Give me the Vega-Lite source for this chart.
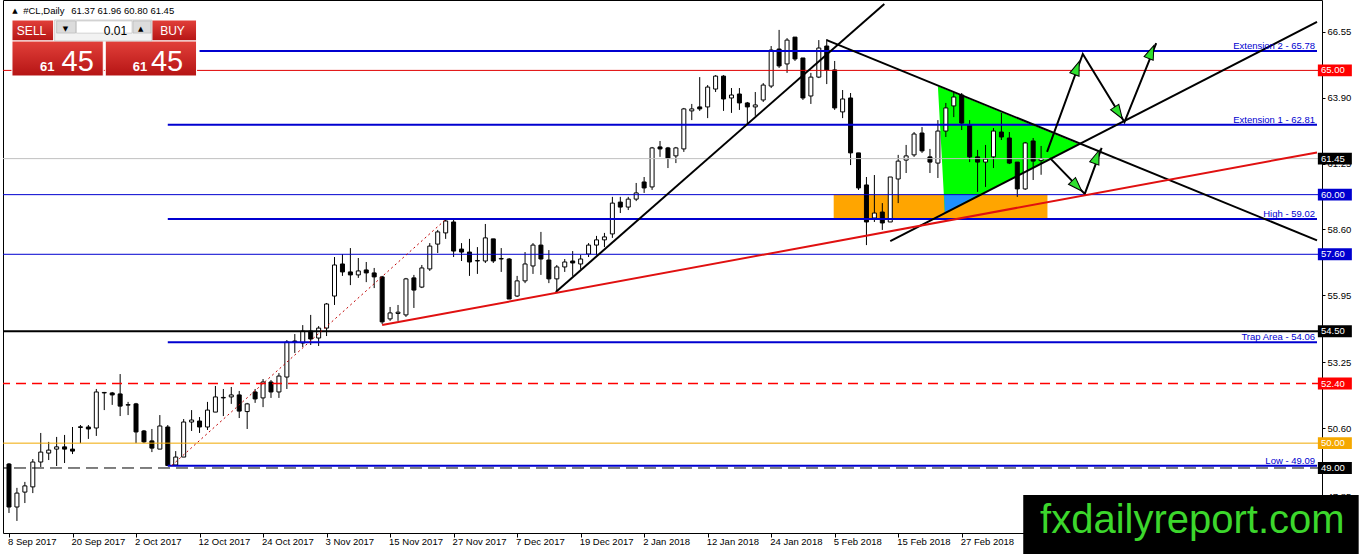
{
"$schema": "https://vega.github.io/schema/vega-lite/v6.json",
"width": 1319, "height": 533,
"autosize": {"type": "none"},
"padding": {"left": 3, "top": 0, "right": 40, "bottom": 21},
"background": "white",
"config": {"view": {"stroke": "black", "strokeWidth": 1}, "text": {"font": "Liberation Sans"}, "axis": {"labelFont": "Liberation Sans", "labelFontSize": 9.5, "labelColor": "black", "tickColor": "black"}},
"datasets": {
"candles": [
{"i":0,"d":"8 Sep 2017","o":49.16,"h":49.2,"l":47.19,"c":47.43},
{"i":1,"d":"11 Sep 2017","o":47.43,"h":48.2,"l":46.87,"c":47.99},
{"i":2,"d":"12 Sep 2017","o":48.03,"h":48.44,"l":47.59,"c":48.28},
{"i":3,"d":"13 Sep 2017","o":48.24,"h":49.36,"l":47.99,"c":49.24},
{"i":4,"d":"14 Sep 2017","o":49.24,"h":50.41,"l":49.04,"c":49.64},
{"i":5,"d":"15 Sep 2017","o":49.6,"h":50.05,"l":49.32,"c":49.72},
{"i":6,"d":"18 Sep 2017","o":49.76,"h":50.25,"l":49.08,"c":49.85},
{"i":7,"d":"19 Sep 2017","o":49.85,"h":50.33,"l":49.2,"c":49.76},
{"i":8,"d":"20 Sep 2017","o":49.76,"h":50.65,"l":49.56,"c":49.68},
{"i":9,"d":"21 Sep 2017","o":50.63,"h":50.73,"l":50.0,"c":50.66},
{"i":10,"d":"22 Sep 2017","o":50.65,"h":50.73,"l":50.17,"c":50.57},
{"i":11,"d":"25 Sep 2017","o":50.61,"h":52.18,"l":50.29,"c":52.06},
{"i":12,"d":"26 Sep 2017","o":52.02,"h":52.06,"l":51.33,"c":52.04},
{"i":13,"d":"27 Sep 2017","o":52.02,"h":52.06,"l":51.54,"c":51.94},
{"i":14,"d":"28 Sep 2017","o":51.98,"h":52.78,"l":51.09,"c":51.49},
{"i":15,"d":"29 Sep 2017","o":51.53,"h":51.66,"l":51.13,"c":51.55},
{"i":16,"d":"2 Oct 2017","o":51.58,"h":51.62,"l":50.0,"c":50.45},
{"i":17,"d":"3 Oct 2017","o":50.49,"h":50.53,"l":50.0,"c":50.05},
{"i":18,"d":"4 Oct 2017","o":50.09,"h":50.57,"l":49.64,"c":49.8},
{"i":19,"d":"5 Oct 2017","o":49.76,"h":51.13,"l":49.76,"c":50.69},
{"i":20,"d":"6 Oct 2017","o":50.65,"h":50.73,"l":49.09,"c":49.1},
{"i":21,"d":"9 Oct 2017","o":49.12,"h":49.68,"l":49.1,"c":49.44},
{"i":22,"d":"10 Oct 2017","o":49.44,"h":50.97,"l":49.44,"c":50.85},
{"i":23,"d":"11 Oct 2017","o":50.85,"h":51.33,"l":50.49,"c":50.93},
{"i":24,"d":"12 Oct 2017","o":50.89,"h":51.05,"l":50.41,"c":50.65},
{"i":25,"d":"13 Oct 2017","o":50.65,"h":51.66,"l":50.53,"c":51.33},
{"i":26,"d":"16 Oct 2017","o":51.25,"h":52.3,"l":51.25,"c":51.86},
{"i":27,"d":"17 Oct 2017","o":51.82,"h":52.18,"l":51.09,"c":51.84},
{"i":28,"d":"18 Oct 2017","o":51.86,"h":52.26,"l":51.58,"c":51.94},
{"i":29,"d":"19 Oct 2017","o":51.94,"h":52.1,"l":51.01,"c":51.29},
{"i":30,"d":"20 Oct 2017","o":51.27,"h":51.62,"l":50.57,"c":51.58},
{"i":31,"d":"23 Oct 2017","o":52.06,"h":52.18,"l":51.62,"c":51.78},
{"i":32,"d":"24 Oct 2017","o":51.82,"h":52.58,"l":51.45,"c":52.46},
{"i":33,"d":"25 Oct 2017","o":52.46,"h":52.54,"l":51.82,"c":52.06},
{"i":34,"d":"26 Oct 2017","o":52.06,"h":52.82,"l":51.82,"c":52.7},
{"i":35,"d":"27 Oct 2017","o":52.66,"h":54.15,"l":52.18,"c":54.07},
{"i":36,"d":"30 Oct 2017","o":54.11,"h":54.39,"l":53.63,"c":54.07},
{"i":37,"d":"31 Oct 2017","o":54.03,"h":54.75,"l":53.87,"c":54.51},
{"i":38,"d":"1 Nov 2017","o":54.51,"h":55.16,"l":53.95,"c":54.19},
{"i":39,"d":"2 Nov 2017","o":54.23,"h":54.71,"l":53.91,"c":54.63},
{"i":40,"d":"3 Nov 2017","o":54.63,"h":55.64,"l":54.31,"c":55.6},
{"i":41,"d":"6 Nov 2017","o":55.92,"h":57.49,"l":55.56,"c":57.17},
{"i":42,"d":"7 Nov 2017","o":57.21,"h":57.61,"l":56.73,"c":56.89},
{"i":43,"d":"8 Nov 2017","o":56.89,"h":57.85,"l":56.36,"c":56.77},
{"i":44,"d":"9 Nov 2017","o":56.77,"h":57.45,"l":56.65,"c":56.93},
{"i":45,"d":"10 Nov 2017","o":56.97,"h":57.29,"l":56.48,"c":56.85},
{"i":46,"d":"13 Nov 2017","o":56.85,"h":57.05,"l":56.24,"c":56.69},
{"i":47,"d":"14 Nov 2017","o":56.69,"h":56.73,"l":54.79,"c":54.88},
{"i":48,"d":"15 Nov 2017","o":55.0,"h":55.48,"l":54.92,"c":55.24},
{"i":49,"d":"16 Nov 2017","o":55.22,"h":55.56,"l":54.92,"c":55.27},
{"i":50,"d":"17 Nov 2017","o":55.16,"h":56.65,"l":55.08,"c":56.61},
{"i":51,"d":"20 Nov 2017","o":56.65,"h":56.77,"l":55.44,"c":56.16},
{"i":52,"d":"21 Nov 2017","o":56.28,"h":57.17,"l":56.24,"c":57.05},
{"i":53,"d":"22 Nov 2017","o":57.01,"h":58.05,"l":56.93,"c":57.93},
{"i":54,"d":"23 Nov 2017","o":58.01,"h":58.58,"l":57.65,"c":58.5},
{"i":55,"d":"24 Nov 2017","o":58.46,"h":59.02,"l":58.22,"c":58.94},
{"i":56,"d":"27 Nov 2017","o":58.9,"h":58.98,"l":57.49,"c":57.73},
{"i":57,"d":"28 Nov 2017","o":57.81,"h":58.05,"l":57.33,"c":57.69},
{"i":58,"d":"29 Nov 2017","o":57.69,"h":58.22,"l":56.73,"c":57.29},
{"i":59,"d":"30 Nov 2017","o":57.33,"h":57.89,"l":56.81,"c":57.35},
{"i":60,"d":"1 Dec 2017","o":57.33,"h":58.82,"l":57.25,"c":58.26},
{"i":61,"d":"4 Dec 2017","o":58.22,"h":58.22,"l":57.25,"c":57.33},
{"i":62,"d":"5 Dec 2017","o":57.41,"h":57.85,"l":56.89,"c":57.43},
{"i":63,"d":"6 Dec 2017","o":57.41,"h":57.45,"l":55.8,"c":55.8},
{"i":64,"d":"7 Dec 2017","o":55.92,"h":56.73,"l":55.88,"c":56.53},
{"i":65,"d":"8 Dec 2017","o":56.53,"h":57.69,"l":56.44,"c":57.21},
{"i":66,"d":"11 Dec 2017","o":57.13,"h":58.05,"l":56.81,"c":57.97},
{"i":67,"d":"12 Dec 2017","o":57.97,"h":58.5,"l":56.77,"c":57.41},
{"i":68,"d":"13 Dec 2017","o":57.37,"h":57.77,"l":56.44,"c":56.61},
{"i":69,"d":"14 Dec 2017","o":56.61,"h":57.17,"l":56.04,"c":57.09},
{"i":70,"d":"15 Dec 2017","o":57.09,"h":57.41,"l":56.89,"c":57.29},
{"i":71,"d":"18 Dec 2017","o":57.33,"h":57.73,"l":56.73,"c":57.25},
{"i":72,"d":"19 Dec 2017","o":57.21,"h":57.57,"l":57.01,"c":57.41},
{"i":73,"d":"20 Dec 2017","o":57.61,"h":58.05,"l":57.49,"c":57.97},
{"i":74,"d":"21 Dec 2017","o":57.97,"h":58.34,"l":57.57,"c":58.18},
{"i":75,"d":"22 Dec 2017","o":58.18,"h":58.46,"l":57.89,"c":58.3},
{"i":76,"d":"26 Dec 2017","o":58.42,"h":59.91,"l":58.26,"c":59.66},
{"i":77,"d":"27 Dec 2017","o":59.7,"h":59.91,"l":59.26,"c":59.5},
{"i":78,"d":"28 Dec 2017","o":59.5,"h":59.91,"l":59.38,"c":59.82},
{"i":79,"d":"29 Dec 2017","o":59.82,"h":60.47,"l":59.74,"c":60.07},
{"i":80,"d":"2 Jan 2018","o":60.51,"h":60.71,"l":60.07,"c":60.27},
{"i":81,"d":"3 Jan 2018","o":60.31,"h":61.92,"l":60.19,"c":61.88},
{"i":82,"d":"4 Jan 2018","o":61.92,"h":62.16,"l":61.52,"c":61.84},
{"i":83,"d":"5 Jan 2018","o":61.88,"h":61.92,"l":61.07,"c":61.47},
{"i":84,"d":"8 Jan 2018","o":61.56,"h":61.92,"l":61.27,"c":61.88},
{"i":85,"d":"9 Jan 2018","o":61.84,"h":63.49,"l":61.72,"c":63.45},
{"i":86,"d":"10 Jan 2018","o":63.37,"h":63.65,"l":63.0,"c":63.45},
{"i":87,"d":"11 Jan 2018","o":63.53,"h":64.73,"l":63.37,"c":63.45},
{"i":88,"d":"12 Jan 2018","o":63.53,"h":64.41,"l":63.08,"c":64.33},
{"i":89,"d":"15 Jan 2018","o":64.25,"h":64.81,"l":64.13,"c":64.77},
{"i":90,"d":"16 Jan 2018","o":64.77,"h":64.81,"l":63.37,"c":63.85},
{"i":91,"d":"17 Jan 2018","o":63.89,"h":64.29,"l":63.29,"c":64.01},
{"i":92,"d":"18 Jan 2018","o":64.05,"h":64.29,"l":63.41,"c":63.69},
{"i":93,"d":"19 Jan 2018","o":63.69,"h":63.73,"l":62.84,"c":63.53},
{"i":94,"d":"22 Jan 2018","o":63.53,"h":64.13,"l":63.17,"c":63.61},
{"i":95,"d":"23 Jan 2018","o":63.81,"h":64.49,"l":63.73,"c":64.41},
{"i":96,"d":"24 Jan 2018","o":64.37,"h":65.98,"l":64.29,"c":65.82},
{"i":97,"d":"25 Jan 2018","o":65.86,"h":66.63,"l":65.1,"c":65.18},
{"i":98,"d":"26 Jan 2018","o":65.26,"h":66.3,"l":64.9,"c":66.22},
{"i":99,"d":"29 Jan 2018","o":66.34,"h":66.34,"l":65.38,"c":65.46},
{"i":100,"d":"30 Jan 2018","o":65.5,"h":65.5,"l":63.81,"c":63.89},
{"i":101,"d":"31 Jan 2018","o":63.97,"h":64.9,"l":63.65,"c":64.73},
{"i":102,"d":"1 Feb 2018","o":64.73,"h":66.22,"l":64.69,"c":65.9},
{"i":103,"d":"2 Feb 2018","o":65.98,"h":66.26,"l":64.45,"c":65.02},
{"i":104,"d":"5 Feb 2018","o":65.02,"h":65.38,"l":63.41,"c":63.49},
{"i":105,"d":"6 Feb 2018","o":63.33,"h":64.21,"l":63.08,"c":63.85},
{"i":106,"d":"7 Feb 2018","o":63.89,"h":64.09,"l":61.19,"c":61.68},
{"i":107,"d":"8 Feb 2018","o":61.68,"h":61.68,"l":60.19,"c":60.27},
{"i":108,"d":"9 Feb 2018","o":60.39,"h":60.71,"l":57.97,"c":58.9},
{"i":109,"d":"12 Feb 2018","o":59.06,"h":60.79,"l":58.9,"c":59.26},
{"i":110,"d":"13 Feb 2018","o":59.3,"h":59.66,"l":58.58,"c":58.86},
{"i":111,"d":"14 Feb 2018","o":58.9,"h":60.71,"l":58.9,"c":60.71},
{"i":112,"d":"15 Feb 2018","o":60.63,"h":61.6,"l":59.66,"c":61.35},
{"i":113,"d":"16 Feb 2018","o":61.39,"h":62.0,"l":60.87,"c":61.56},
{"i":114,"d":"19 Feb 2018","o":61.6,"h":62.52,"l":61.52,"c":62.44},
{"i":115,"d":"20 Feb 2018","o":62.48,"h":62.72,"l":61.68,"c":61.76},
{"i":116,"d":"21 Feb 2018","o":61.52,"h":61.84,"l":60.87,"c":61.31},
{"i":117,"d":"22 Feb 2018","o":61.27,"h":63.0,"l":60.67,"c":62.56},
{"i":118,"d":"23 Feb 2018","o":62.56,"h":63.69,"l":62.32,"c":63.49},
{"i":119,"d":"26 Feb 2018","o":63.57,"h":64.13,"l":63.12,"c":63.93},
{"i":120,"d":"27 Feb 2018","o":64.01,"h":64.09,"l":62.6,"c":62.88},
{"i":121,"d":"28 Feb 2018","o":62.8,"h":63.0,"l":61.31,"c":61.52},
{"i":122,"d":"1 Mar 2018","o":61.52,"h":61.8,"l":60.11,"c":61.31},
{"i":123,"d":"2 Mar 2018","o":61.31,"h":62.0,"l":60.31,"c":61.43},
{"i":124,"d":"5 Mar 2018","o":61.52,"h":62.68,"l":61.07,"c":62.56},
{"i":125,"d":"6 Mar 2018","o":62.52,"h":63.29,"l":62.2,"c":62.32},
{"i":126,"d":"7 Mar 2018","o":62.28,"h":62.52,"l":61.23,"c":61.27},
{"i":127,"d":"8 Mar 2018","o":61.31,"h":61.31,"l":59.91,"c":60.23},
{"i":128,"d":"9 Mar 2018","o":60.23,"h":62.12,"l":60.19,"c":62.08},
{"i":129,"d":"12 Mar 2018","o":62.16,"h":62.28,"l":60.59,"c":61.35},
{"i":130,"d":"13 Mar 2018","o":61.37,"h":61.96,"l":60.8,"c":61.45}
],
"tagged": [
{"p":65.0,"s":"res"},{"p":61.45,"s":"bid"},{"p":60.0,"s":"sup"},{"p":57.6,"s":"sup"},
{"p":54.5,"s":"piv"},{"p":52.4,"s":"resd"},{"p":50.0,"s":"psy"},{"p":49.0,"s":"pivd"}
],
"fibo": [
{"p":65.78,"i0":24,"lab":"Extension 2 - 65.78"},
{"p":62.81,"i0":20,"lab":"Extension 1 - 62.81"},
{"p":59.02,"i0":20,"lab":"High - 59.02"},
{"p":54.06,"i0":20,"lab":"Trap Area - 54.06"},
{"p":49.09,"i0":20,"lab":"Low - 49.09"}
],
"trend": [
{"g":"red","i":47,"p":54.75},{"g":"red","i":164.75,"p":61.7},
{"g":"up","i":68.875,"p":56.08},{"g":"up","i":110.25,"p":67.67},
{"g":"desc","i":103,"p":66.22},{"g":"desc","i":164.75,"p":58.16},
{"g":"asc","i":111,"p":58.13},{"g":"asc","i":164.75,"p":66.95},
{"g":"dot","i":20.5,"p":49.1},{"g":"dot","i":55,"p":59.0},
{"g":"arr1","i":130.75,"p":61.72},{"g":"arr1","i":135.25,"p":65.66},{"g":"arr1","i":140.5,"p":62.92},{"g":"arr1","i":144.5,"p":66.1},
{"g":"arr2","i":131.125,"p":61.47},{"g":"arr2","i":135.5,"p":60.03},{"g":"arr2","i":137.625,"p":61.88}
],
"heads": [
{"i":134.5,"p":65.1,"a":20},
{"i":139.75,"p":63.29,"a":147},
{"i":143.875,"p":65.74,"a":22},
{"i":134.5,"p":60.35,"a":136},
{"i":137.0,"p":61.52,"a":20}
],
"zone": [{"i0":103.875,"i1":130.8,"p0":59.02,"p1":60.0}],
"tri": [{"p":64.36,"xa":117.0,"xb":117.0},{"p":62.04,"xa":117.4,"xb":134.75},{"p":59.26,"xa":117.875,"xb":117.875}],
"overlap": [{"p":60.0,"xa":117.78,"xb":122.05},{"p":59.26,"xa":117.875,"xb":117.875}],
"panel": [
{"k":"red","i0":0.375,"i1":5.625,"p0":67.028,"p1":66.183},
{"k":"red","i0":18,"i1":23.625,"p0":67.028,"p1":66.183},
{"k":"red","i0":0.375,"i1":11.875,"p0":66.183,"p1":64.775},
{"k":"red","i0":12.125,"i1":23.625,"p0":66.183,"p1":64.775},
{"k":"lotbg","i0":5.75,"i1":18,"p0":67.028,"p1":66.183},
{"k":"field","i0":8.5,"i1":15.5,"p0":66.99,"p1":66.5},
{"k":"btn","i0":6.0,"i1":8.375,"p0":66.99,"p1":66.5},
{"k":"btn","i0":15.625,"i1":17.875,"p0":66.99,"p1":66.5}
],
"uitext": [
{"k":"btn","t":"SELL","i":2.84,"p":66.585},
{"k":"btn","t":"BUY","i":20.6,"p":66.585},
{"k":"lot","t":"0.01","i":14.875,"p":66.6},
{"k":"arrow","t":"▼","i":7.125,"p":66.65},
{"k":"arrow","t":"▲","i":16.6,"p":66.65},
{"k":"small","t":"61","i":4.81,"p":64.976},
{"k":"big","t":"45","i":6.625,"p":64.976},
{"k":"small","t":"61","i":16.5,"p":64.976},
{"k":"big","t":"45","i":17.875,"p":64.976},
{"k":"icon","t":"▲","i":0.75,"p":67.39},
{"k":"head","t":"#CL,Daily","i":1.79,"p":67.39},
{"k":"head","t":"61.37 61.96 60.80 61.45","i":7.83,"p":67.39}
],
"logo": [{"t":"fxdailyreport.com","i0":127.75,"i1":170,"p0":47.913,"p1":45.3,"ti":129.875,"tp":46.384}]
},
"layer": [
{"data": {"name": "zone"}, "mark": {"type": "rect", "color": "#FFA500"},
 "encoding": {
  "x": {"field": "i0", "type": "quantitative", "scale": {"domain": [-0.125, 164.75], "nice": false, "zero": false},
        "axis": {"orient": "bottom", "values": [0,8,16,24,32,40,48,56,64,72,80,88,96,104,112,120], "labels": false, "domain": false, "grid": false, "ticks": true, "tickSize": 4, "title": null}, "title": null},
  "x2": {"field": "i1"},
  "y": {"field": "p0", "type": "quantitative", "scale": {"domain": [46.384, 67.833], "nice": false, "zero": false},
        "axis": {"orient": "right", "values": [66.55,65.25,63.9,62.6,61.25,59.9,58.6,57.25,55.95,54.6,53.25,51.95,50.6,49.2,47.85], "format": ".2f", "domain": false, "grid": false, "tickSize": 3, "labelPadding": 2, "title": null}, "title": null},
  "y2": {"field": "p1"}}},
{"data": {"name": "tri"}, "mark": {"type": "area", "orient": "horizontal", "color": "#00FF00", "opacity": 1},
 "encoding": {"y": {"field": "p", "type": "quantitative", "title": null}, "x": {"field": "xa", "type": "quantitative", "title": null}, "x2": {"field": "xb"}}},
{"data": {"name": "overlap"}, "mark": {"type": "area", "orient": "horizontal", "color": "#1E90FF", "opacity": 1},
 "encoding": {"y": {"field": "p", "type": "quantitative", "title": null}, "x": {"field": "xa", "type": "quantitative", "title": null}, "x2": {"field": "xb"}}},
{"data": {"name": "candles"}, "mark": {"type": "rule", "color": "black", "strokeWidth": 1},
 "encoding": {"x": {"field": "i", "type": "quantitative", "title": null}, "y": {"field": "l", "type": "quantitative", "title": null}, "y2": {"field": "h"}}},
{"data": {"name": "candles"}, "mark": {"type": "bar", "orient": "vertical", "size": 4, "stroke": "black", "strokeWidth": 1},
 "encoding": {"x": {"field": "i", "type": "quantitative", "title": null}, "y": {"field": "o", "type": "quantitative", "title": null}, "y2": {"field": "c"},
  "fill": {"condition": {"test": "datum.c >= datum.o", "value": "white"}, "value": "black"}}},
{"data": {"name": "tagged"}, "transform": [{"filter": "datum.s == 'res'"}], "mark": {"type": "rule", "stroke": "#E00000", "strokeWidth": 1},
 "encoding": {"y": {"field": "p", "type": "quantitative", "title": null}}},
{"data": {"name": "tagged"}, "transform": [{"filter": "datum.s == 'bid'"}], "mark": {"type": "rule", "stroke": "#C0C0C0", "strokeWidth": 1},
 "encoding": {"y": {"field": "p", "type": "quantitative", "title": null}}},
{"data": {"name": "tagged"}, "transform": [{"filter": "datum.s == 'sup'"}], "mark": {"type": "rule", "stroke": "#0000D0", "strokeWidth": 1},
 "encoding": {"y": {"field": "p", "type": "quantitative", "title": null}}},
{"data": {"name": "tagged"}, "transform": [{"filter": "datum.s == 'piv'"}], "mark": {"type": "rule", "stroke": "#000000", "strokeWidth": 2},
 "encoding": {"y": {"field": "p", "type": "quantitative", "title": null}}},
{"data": {"name": "tagged"}, "transform": [{"filter": "datum.s == 'resd'"}], "mark": {"type": "rule", "stroke": "#FF0000", "strokeWidth": 1.3, "strokeDash": [10, 6]},
 "encoding": {"y": {"field": "p", "type": "quantitative", "title": null}}},
{"data": {"name": "tagged"}, "transform": [{"filter": "datum.s == 'psy'"}], "mark": {"type": "rule", "stroke": "#F0A800", "strokeWidth": 1},
 "encoding": {"y": {"field": "p", "type": "quantitative", "title": null}}},
{"data": {"name": "tagged"}, "transform": [{"filter": "datum.s == 'pivd'"}], "mark": {"type": "rule", "stroke": "#000000", "strokeWidth": 1, "strokeDash": [12, 6]},
 "encoding": {"y": {"field": "p", "type": "quantitative", "title": null}}},
{"data": {"name": "fibo"}, "mark": {"type": "rule", "color": "#0000D0", "strokeWidth": 2},
 "encoding": {"x": {"field": "i0", "type": "quantitative", "title": null}, "x2": {"datum": 164.75}, "y": {"field": "p", "type": "quantitative", "title": null}}},
{"data": {"name": "trend"}, "transform": [{"filter": "datum.g == 'up' || datum.g == 'desc' || datum.g == 'asc' || datum.g == 'arr1' || datum.g == 'arr2'"}],
 "mark": {"type": "line", "color": "black", "strokeWidth": 2},
 "encoding": {"x": {"field": "i", "type": "quantitative", "title": null}, "y": {"field": "p", "type": "quantitative", "title": null}, "detail": {"field": "g"}}},
{"data": {"name": "trend"}, "transform": [{"filter": "datum.g == 'red'"}],
 "mark": {"type": "line", "color": "#E01010", "strokeWidth": 2},
 "encoding": {"x": {"field": "i", "type": "quantitative", "title": null}, "y": {"field": "p", "type": "quantitative", "title": null}}},
{"data": {"name": "trend"}, "transform": [{"filter": "datum.g == 'dot'"}],
 "mark": {"type": "line", "color": "#C00000", "strokeWidth": 1, "strokeDash": [2, 3]},
 "encoding": {"x": {"field": "i", "type": "quantitative", "title": null}, "y": {"field": "p", "type": "quantitative", "title": null}}},
{"data": {"name": "heads"}, "mark": {"type": "point", "shape": "M0,-1L0.7,1L-0.7,1Z", "size": 196, "filled": true, "fill": "#2EE02E", "stroke": "black", "strokeWidth": 1, "opacity": 1},
 "encoding": {"x": {"field": "i", "type": "quantitative", "title": null}, "y": {"field": "p", "type": "quantitative", "title": null}, "angle": {"field": "a", "type": "quantitative", "scale": null}}},
{"data": {"name": "fibo"}, "mark": {"type": "text", "align": "right", "baseline": "alphabetic", "dy": -2, "fontSize": 9.5, "color": "#0000D0"},
 "encoding": {"x": {"datum": 164.5}, "y": {"field": "p", "type": "quantitative", "title": null}, "text": {"field": "lab"}}},
{"data": {"name": "tagged"}, "mark": {"type": "point", "shape": "M-1,-0.35H1V0.35H-1Z", "size": 1156, "filled": true, "strokeWidth": 0, "opacity": 1},
 "encoding": {"x": {"datum": 167}, "y": {"field": "p", "type": "quantitative", "title": null},
  "fill": {"field": "s", "type": "nominal", "legend": null, "scale": {"domain": ["res","bid","sup","piv","resd","psy","pivd"], "range": ["#FF0000","#000000","#0000D0","#000000","#FF0000","#F5A800","#000000"]}}}},
{"data": {"name": "tagged"}, "mark": {"type": "text", "align": "left", "baseline": "middle", "fontSize": 9.5, "color": "white"},
 "encoding": {"x": {"datum": 165.25}, "y": {"field": "p", "type": "quantitative", "title": null}, "text": {"field": "p", "type": "quantitative", "format": ".2f"}}},
{"data": {"name": "candles"}, "transform": [{"filter": "datum.i % 8 == 0 && datum.i <= 120"}],
 "mark": {"type": "text", "align": "left", "baseline": "middle", "fontSize": 9.5, "color": "black", "dx": -1},
 "encoding": {"x": {"field": "i", "type": "quantitative", "title": null}, "y": {"datum": 46.022}, "text": {"field": "d"}}},
{"data": {"name": "panel"}, "transform": [{"filter": "datum.k == 'red'"}],
 "mark": {"type": "rect", "stroke": "white", "strokeWidth": 1, "fill": {"gradient": "linear", "x1": 0, "y1": 0, "x2": 0, "y2": 1, "stops": [{"offset": 0, "color": "#E2403A"}, {"offset": 1, "color": "#B51414"}]}},
 "encoding": {"x": {"field": "i0", "type": "quantitative", "title": null}, "x2": {"field": "i1"}, "y": {"field": "p0", "type": "quantitative", "title": null}, "y2": {"field": "p1"}}},
{"data": {"name": "panel"}, "transform": [{"filter": "datum.k == 'lotbg'"}],
 "mark": {"type": "rect", "fill": "#F2F2F2", "stroke": "#A8A8A8", "strokeWidth": 0.5},
 "encoding": {"x": {"field": "i0", "type": "quantitative", "title": null}, "x2": {"field": "i1"}, "y": {"field": "p0", "type": "quantitative", "title": null}, "y2": {"field": "p1"}}},
{"data": {"name": "panel"}, "transform": [{"filter": "datum.k == 'field'"}],
 "mark": {"type": "rect", "fill": "#FFFFFF", "stroke": "#B0B0B0", "strokeWidth": 0.5},
 "encoding": {"x": {"field": "i0", "type": "quantitative", "title": null}, "x2": {"field": "i1"}, "y": {"field": "p0", "type": "quantitative", "title": null}, "y2": {"field": "p1"}}},
{"data": {"name": "panel"}, "transform": [{"filter": "datum.k == 'btn'"}],
 "mark": {"type": "rect", "fill": "#DCDCDC", "stroke": "#A8A8A8", "strokeWidth": 0.5},
 "encoding": {"x": {"field": "i0", "type": "quantitative", "title": null}, "x2": {"field": "i1"}, "y": {"field": "p0", "type": "quantitative", "title": null}, "y2": {"field": "p1"}}},
{"data": {"name": "uitext"}, "transform": [{"filter": "datum.k == 'btn'"}],
 "mark": {"type": "text", "align": "center", "baseline": "middle", "fontSize": 12, "color": "white"},
 "encoding": {"x": {"field": "i", "type": "quantitative", "title": null}, "y": {"field": "p", "type": "quantitative", "title": null}, "text": {"field": "t"}}},
{"data": {"name": "uitext"}, "transform": [{"filter": "datum.k == 'lot'"}],
 "mark": {"type": "text", "align": "right", "baseline": "middle", "fontSize": 12, "color": "black"},
 "encoding": {"x": {"field": "i", "type": "quantitative", "title": null}, "y": {"field": "p", "type": "quantitative", "title": null}, "text": {"field": "t"}}},
{"data": {"name": "uitext"}, "transform": [{"filter": "datum.k == 'arrow' || datum.k == 'icon'"}],
 "mark": {"type": "text", "align": "center", "baseline": "middle", "fontSize": 7, "color": "black", "font": "DejaVu Sans"},
 "encoding": {"x": {"field": "i", "type": "quantitative", "title": null}, "y": {"field": "p", "type": "quantitative", "title": null}, "text": {"field": "t"}}},
{"data": {"name": "uitext"}, "transform": [{"filter": "datum.k == 'small'"}],
 "mark": {"type": "text", "align": "center", "baseline": "alphabetic", "fontSize": 13, "fontWeight": "bold", "color": "white"},
 "encoding": {"x": {"field": "i", "type": "quantitative", "title": null}, "y": {"field": "p", "type": "quantitative", "title": null}, "text": {"field": "t"}}},
{"data": {"name": "uitext"}, "transform": [{"filter": "datum.k == 'big'"}],
 "mark": {"type": "text", "align": "left", "baseline": "alphabetic", "fontSize": 29, "color": "white"},
 "encoding": {"x": {"field": "i", "type": "quantitative", "title": null}, "y": {"field": "p", "type": "quantitative", "title": null}, "text": {"field": "t"}}},
{"data": {"name": "uitext"}, "transform": [{"filter": "datum.k == 'head'"}],
 "mark": {"type": "text", "align": "left", "baseline": "middle", "fontSize": 9.5, "color": "black"},
 "encoding": {"x": {"field": "i", "type": "quantitative", "title": null}, "y": {"field": "p", "type": "quantitative", "title": null}, "text": {"field": "t"}}},
{"data": {"name": "logo"}, "mark": {"type": "rect", "color": "black"},
 "encoding": {"x": {"field": "i0", "type": "quantitative", "title": null}, "x2": {"field": "i1"}, "y": {"field": "p0", "type": "quantitative", "title": null}, "y2": {"field": "p1"}}},
{"data": {"name": "logo"}, "mark": {"type": "text", "align": "left", "baseline": "alphabetic", "fontSize": 40, "color": "#3CD72C"},
 "encoding": {"x": {"field": "ti", "type": "quantitative", "title": null}, "y": {"field": "tp", "type": "quantitative", "title": null}, "text": {"field": "t"}}}
]
}
